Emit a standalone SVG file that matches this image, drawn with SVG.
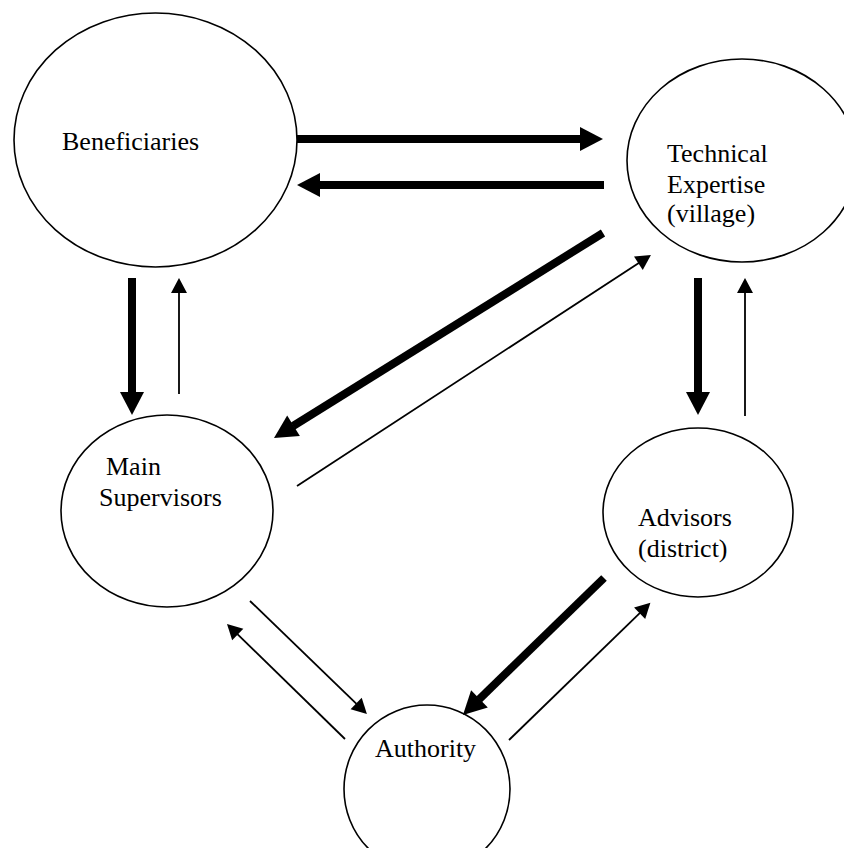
<svg xmlns="http://www.w3.org/2000/svg" width="844" height="848" viewBox="0 0 844 848">
  <style>
    .node { fill: #ffffff; stroke: #000000; stroke-width: 1.6; }
    .label { font-family: "Liberation Serif", "Times New Roman", serif; font-size: 26px; fill: #000000; }
    .thick { stroke: #000000; stroke-width: 8; fill: none; marker-end: url(#headThick); }
    .thin { stroke: #000000; stroke-width: 1.8; fill: none; marker-end: url(#headThin); }
  </style>
  <defs>
    <marker id="headThick" markerUnits="userSpaceOnUse" markerWidth="24" markerHeight="24" refX="0.5" refY="12" orient="auto" overflow="visible">
      <path d="M0,0 L23,12 L0,24 z" fill="#000000"/>
    </marker>
    <marker id="headThin" markerUnits="userSpaceOnUse" markerWidth="16" markerHeight="16" refX="0.5" refY="8" orient="auto" overflow="visible">
      <path d="M0,0 L15,8 L0,16 z" fill="#000000"/>
    </marker>
  </defs>
  <rect width="844" height="848" fill="#ffffff"/>

  <g id="beneficiaries">
    <ellipse class="node" cx="155.5" cy="140" rx="141.5" ry="127"/>
    <text class="label" x="62" y="150">Beneficiaries</text>
  </g>

  <g id="technical-expertise">
    <ellipse class="node" cx="742" cy="160.5" rx="115" ry="101.5"/>
    <text class="label" x="667" y="162">Technical</text>
    <text class="label" x="667" y="193">Expertise</text>
    <text class="label" x="667" y="222">(village)</text>
  </g>

  <g id="main-supervisors">
    <ellipse class="node" cx="167" cy="511" rx="106" ry="96"/>
    <text class="label" x="106" y="475">Main</text>
    <text class="label" x="99" y="506">Supervisors</text>
  </g>

  <g id="advisors">
    <ellipse class="node" cx="698" cy="512.5" rx="95" ry="84.5"/>
    <text class="label" x="638" y="526">Advisors</text>
    <text class="label" x="638" y="557">(district)</text>
  </g>

  <g id="authority">
    <ellipse class="node" cx="427" cy="789" rx="83" ry="84"/>
    <text class="label" x="375" y="757">Authority</text>
  </g>

  <g id="connectors">
    <!-- Beneficiaries <-> Technical Expertise -->
    <line class="thick" x1="297" y1="139" x2="580.5" y2="139"/>
    <line class="thick" x1="604" y1="185" x2="319.5" y2="185"/>
    <!-- Beneficiaries <-> Main Supervisors -->
    <line class="thick" x1="132" y1="278" x2="132" y2="392.5"/>
    <line class="thin" x1="179" y1="394" x2="179" y2="292.5"/>
    <!-- Technical Expertise <-> Main Supervisors -->
    <line class="thick" x1="603" y1="233" x2="293.1" y2="426"/>
    <line class="thin" x1="297" y1="486" x2="638.8" y2="263"/>
    <!-- Technical Expertise <-> Advisors -->
    <line class="thick" x1="698" y1="278" x2="698" y2="392.5"/>
    <line class="thin" x1="745" y1="416" x2="745" y2="292.5"/>
    <!-- Main Supervisors <-> Authority -->
    <line class="thin" x1="250" y1="601" x2="356.5" y2="703.9"/>
    <line class="thin" x1="345" y1="739" x2="237.4" y2="634.2"/>
    <!-- Advisors <-> Authority -->
    <line class="thick" x1="604" y1="578" x2="479.1" y2="699.3"/>
    <line class="thin" x1="509" y1="740" x2="640" y2="612.8"/>
  </g>
</svg>
